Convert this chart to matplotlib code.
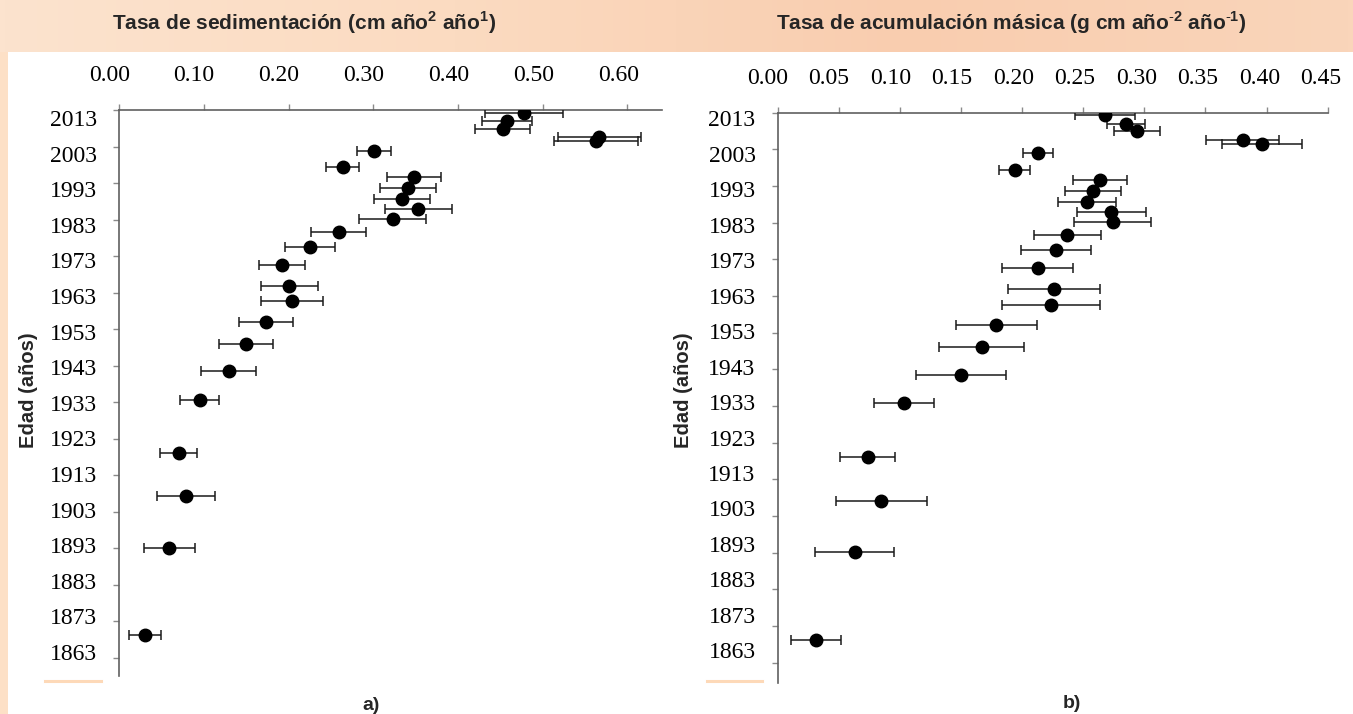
import matplotlib.pyplot as plt
from matplotlib.patches import Rectangle
from matplotlib.transforms import ScaledTranslation
import numpy as np

# ages of the core slices (shared by both panels)
edad = [2012.3, 2009.9, 2007.9, 2005.6, 2004.5, 2001.9, 1997.4, 1994.6, 1991.7, 1988.7,
        1985.9, 1983.2, 1979.5, 1975.4, 1970.5, 1964.9, 1960.6, 1955.0, 1949.0, 1941.5,
        1933.7, 1919.1, 1907.2, 1893.2, 1869.3]

# a) sedimentation rate and its error
sed_rate = [0.478, 0.458, 0.453, 0.567, 0.563, 0.301, 0.264, 0.348, 0.341, 0.334,
            0.353, 0.323, 0.259, 0.225, 0.192, 0.201, 0.204, 0.173, 0.150, 0.129,
            0.095, 0.070, 0.079, 0.059, 0.030]
sed_err = [0.0465, 0.0295, 0.0325, 0.049, 0.0495, 0.020, 0.0195, 0.032, 0.0328, 0.0335,
           0.0395, 0.0395, 0.0325, 0.0298, 0.0275, 0.0335, 0.037, 0.032, 0.032, 0.032,
           0.023, 0.022, 0.0345, 0.030, 0.019]

# b) mass accumulation rate and its error
mass_rate = [0.268, 0.285, 0.294, 0.3805, 0.396, 0.213, 0.194, 0.264, 0.258, 0.253,
             0.273, 0.274, 0.237, 0.2275, 0.213, 0.226, 0.224, 0.179, 0.167, 0.150,
             0.1035, 0.074, 0.085, 0.063, 0.0315]
mass_err = [0.0244, 0.0155, 0.019, 0.030, 0.0327, 0.0121, 0.0125, 0.022, 0.0231, 0.0235,
            0.028, 0.0315, 0.0276, 0.0286, 0.029, 0.0375, 0.040, 0.033, 0.035, 0.0367,
            0.0246, 0.0225, 0.037, 0.0323, 0.0208]

year_ticks = list(range(2013, 1862, -10))
sed_ticks = [0.00, 0.10, 0.20, 0.30, 0.40, 0.50, 0.60]
mass_ticks = [0.00, 0.05, 0.10, 0.15, 0.20, 0.25, 0.30, 0.35, 0.40, 0.45]

plt.rcParams['mathtext.fontset'] = 'custom'
plt.rcParams['mathtext.rm'] = 'Liberation Sans'
plt.rcParams['mathtext.bf'] = 'Liberation Sans:bold'

W, H = 1353, 714
fig = plt.figure(figsize=(W / 100, H / 100), dpi=100)
fig.patch.set_facecolor('white')

# peach header band and left strip
bg = fig.add_axes([0, 0, 1, 1], zorder=-10)
bg.axis('off')
stops = np.array([[252, 227, 206], [251, 219, 193], [249, 205, 175], [250, 213, 186]]) / 255
xs = np.linspace(0, 1, 256)
grad = np.stack([np.interp(xs, np.linspace(0, 1, len(stops)), stops[:, c]) for c in range(3)], axis=-1)
bg.imshow(grad[None, :, :], extent=(0, W, 52, 0), aspect='auto')
bg.add_patch(Rectangle((0, 52), 8, H - 52, color='#fde0c6', lw=0))
bg.plot([45, 101], [681, 681], color='#fdd9b8', lw=2.2)
bg.plot([707, 762], [681, 681], color='#fdd9b8', lw=2.2)
bg.set_xlim(0, W)
bg.set_ylim(H, 0)

serif = 'Liberation Serif'
sans = 'Liberation Sans'


def shift(label, dx_px, dy_px):
    label.set_transform(label.get_transform() + ScaledTranslation(dx_px / 100, dy_px / 100, fig.dpi_scale_trans))


def panel(rect, vals, errs, xmax, xticks, ylim, xoff, yoff):
    ax = fig.add_axes(rect)
    ax.errorbar(vals, edad, xerr=errs, fmt='o', color='black', ms=9,
                ecolor='#1a1a1a', elinewidth=1.1, capsize=3.8, capthick=1.1, zorder=3)
    ax.set_xlim(0, xmax)
    ax.set_ylim(*ylim)
    ax.patch.set_alpha(0)
    for s in ['right', 'bottom']:
        ax.spines[s].set_visible(False)
    for s in ['top', 'left']:
        ax.spines[s].set_color('#606060')
        ax.spines[s].set_linewidth(1.2)
    ax.xaxis.tick_top()
    ax.set_xticks(xticks)
    ax.set_xticklabels(['%.2f' % t for t in xticks], fontfamily=serif, fontsize=17)
    ax.set_yticks(year_ticks)
    ax.set_yticklabels([str(t) for t in year_ticks], fontfamily=serif, fontsize=17)
    ax.tick_params(axis='x', length=4.3, width=1, color='#8a8a8a', pad=12.7)
    ax.tick_params(axis='y', length=4.3, width=1, color='#8a8a8a', pad=11.5)

    # Excel-style labels sit slightly off their ticks
    x0, x1 = xoff
    for t, lab in zip(xticks, ax.get_xticklabels()):
        shift(lab, x0 + (x1 - x0) * t / xticks[-1], 0)
    y0, y1 = yoff
    for t, lab in zip(year_ticks, ax.get_yticklabels()):
        shift(lab, 0, -(y0 + (y1 - y0) * (2013 - t) / 150))
    return ax


panel([119.3 / W, 1 - 676 / H, 542.4 / W, 566 / H], sed_rate, sed_err, 0.6406, sed_ticks,
      (1858.05, 2013), (-10, -9), (8, -6))
panel([777.5 / W, 1 - 682.7 / H, 550.2 / W, 570.2 / H], mass_rate, mass_err, 0.45, mass_ticks,
      (1857.55, 2013), (-10, -7), (6, -12.5))

fig.text(304 / W, 1 - 23 / H, r'Tasa de sedimentación (cm año$^{\mathbf{2}}$ año$^{\mathbf{1}}$)',
         fontfamily=sans, fontweight='bold', fontsize=15, ha='center', va='center', color='#262626')
fig.text(1011 / W, 1 - 23 / H, r'Tasa de acumulación másica (g cm año$^{\mathbf{\text{-}2}}$ año$^{\mathbf{\text{-}1}}$)',
         fontfamily=sans, fontweight='bold', fontsize=15, ha='center', va='center', color='#262626')
fig.text(29 / W, 1 - 390 / H, 'Edad (años)', rotation=90, fontfamily=sans, fontweight='bold',
         fontsize=14.5, ha='center', va='center', color='#262626')
fig.text(684 / W, 1 - 390 / H, 'Edad (años)', rotation=90, fontfamily=sans, fontweight='bold',
         fontsize=14.5, ha='center', va='center', color='#262626')
fig.text(371 / W, 1 - 705 / H, 'a)', fontfamily=sans, fontweight='bold', fontsize=14,
         ha='center', va='center', color='#262626')
fig.text(1072 / W, 1 - 703 / H, 'b)', fontfamily=sans, fontweight='bold', fontsize=14,
         ha='center', va='center', color='#262626')

fig.savefig('out.png', dpi=100)
